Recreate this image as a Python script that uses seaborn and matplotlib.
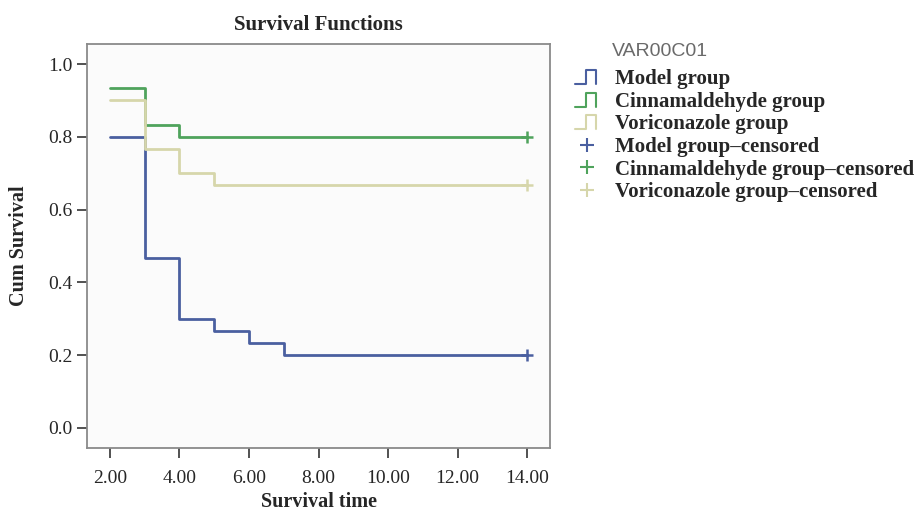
import matplotlib
matplotlib.use("Agg")
import matplotlib.pyplot as plt
from matplotlib.legend_handler import HandlerBase
from matplotlib.lines import Line2D
import seaborn as sns
import pandas as pd

# ---- data ----
groups = ["Model group", "Cinnamaldehyde group", "Voriconazole group"]
model_time = [2, 3, 4, 5, 6, 7, 14]
model_surv = [0.800, 0.467, 0.300, 0.267, 0.233, 0.200, 0.200]
cinn_time = [2, 3, 4, 14]
cinn_surv = [0.933, 0.833, 0.800, 0.800]
vori_time = [2, 3, 4, 5, 14]
vori_surv = [0.900, 0.767, 0.700, 0.667, 0.667]
censor_time = [14, 14, 14]
censor_surv = [0.200, 0.800, 0.667]
x_ticks = [2, 4, 6, 8, 10, 12, 14]
y_ticks = [0.0, 0.2, 0.4, 0.6, 0.8, 1.0]

colors = {"Model group": "#4a5fa0",
          "Cinnamaldehyde group": "#4fa35c",
          "Voriconazole group": "#d6d6ab"}

rows = []
for g, ts, ss in zip(groups, [model_time, cinn_time, vori_time],
                     [model_surv, cinn_surv, vori_surv]):
    for t, s in zip(ts, ss):
        rows.append({"time": t, "surv": s, "group": g})
df = pd.DataFrame(rows)
cens = pd.DataFrame({"time": censor_time, "surv": censor_surv, "group": groups})

sns.set_style("white")
plt.rcParams["font.family"] = ["Liberation Serif", "DejaVu Serif"]

fig = plt.figure(figsize=(9.17, 5.14), dpi=100)
ax = fig.add_axes([0.0949, 0.1284, 0.5049, 0.786])
ax.set_facecolor("#fbfbfb")

sns.lineplot(data=df, x="time", y="surv", hue="group", palette=colors,
             estimator=None, sort=False, drawstyle="steps-post",
             linewidth=2.0, ax=ax, legend=False)
sns.scatterplot(data=cens, x="time", y="surv", hue="group", palette=colors,
                marker="+", s=70, linewidth=1.8, ax=ax, legend=False, zorder=5)

ax.set_xlim(1.34, 14.66)
ax.set_ylim(-0.055, 1.055)
ax.set_xticks(x_ticks)
ax.set_xticklabels([f"{v:.2f}" for v in x_ticks])
ax.set_yticks(y_ticks)
ax.set_yticklabels([f"{v:.1f}" for v in y_ticks])
ax.tick_params(axis="both", direction="out", length=7.5, width=1.2,
               color="#333333", labelsize=14, bottom=True, left=True, pad=3)
ax.tick_params(axis="x", pad=8)
for sp in ax.spines.values():
    sp.set_color("#8a8a8a")
    sp.set_linewidth(1.3)

ax.set_xlabel("Survival time", fontsize=14.5, fontweight="bold", labelpad=4)
ax.set_ylabel("Cum Survival", fontsize=14.5, fontweight="bold", labelpad=14)
ax.set_title("Survival Functions", fontsize=15, fontweight="bold", pad=10)


class StepHandler(HandlerBase):
    def create_artists(self, legend, orig_handle, xdescent, ydescent,
                       width, height, fontsize, trans):
        w, h = width, height * 0.95
        x0, y0 = -xdescent, -ydescent
        xs = [x0, x0 + 0.45 * w, x0 + 0.45 * w, x0 + 0.85 * w, x0 + 0.85 * w]
        ys = [y0, y0, y0 + h, y0 + h, y0]
        ln = Line2D(xs, ys, color=orig_handle.get_color(), linewidth=1.5,
                    transform=trans)
        return [ln]


step_handles = [Line2D([], [], color=colors[g]) for g in groups]
cens_handles = [Line2D([], [], color=colors[g], marker="+", linestyle="none",
                       markersize=10, markeredgewidth=1.5) for g in groups]
labels = groups + [g + "\u2013censored" for g in groups]
handler_map = {h: StepHandler() for h in step_handles}
leg = fig.legend(step_handles + cens_handles, labels, handler_map=handler_map,
                 loc="upper left", bbox_to_anchor=(0.627, 0.866),
                 frameon=False, handlelength=1.2, handletextpad=0.7,
                 labelspacing=0.13, borderpad=0.0, borderaxespad=0.0,
                 prop={"family": ["Liberation Serif"], "weight": "bold", "size": 15})
fig.text(0.667, 0.899, "VAR00C01", family=["Liberation Sans"], fontsize=14,
         color="#6a6a6a", ha="left", va="center")

fig.savefig("out.png", dpi=100, facecolor="white")
